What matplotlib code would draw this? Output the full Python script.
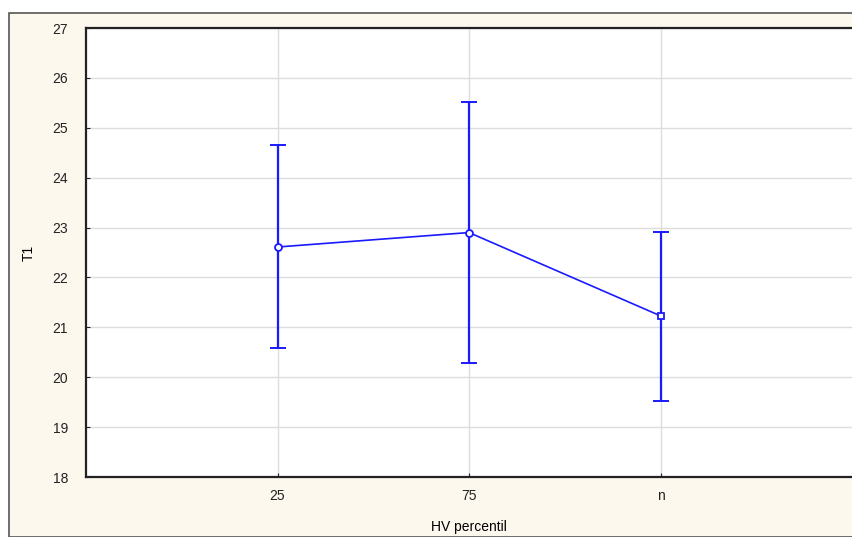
import matplotlib.pyplot as plt
from matplotlib.patches import Rectangle

categories = ['25', '75', 'n']
means = [22.61, 22.90, 21.23]
upper = [24.65, 25.52, 22.91]
lower = [20.58, 20.28, 19.52]
markers = ['o', 'o', 's']

plt.rcParams['font.family'] = ['Liberation Sans', 'DejaVu Sans']

W, H = 852, 537
fig = plt.figure(figsize=(W / 100, H / 100), dpi=100)
fig.patch.set_facecolor('white')

# cream panel with dark border, behind the axes
fig.patches.append(Rectangle((9 / W, 0), 1 - 9 / W + 0.01, 1 - 13 / H,
                             transform=fig.transFigure, facecolor='#fdf8ee',
                             edgecolor='#555555', linewidth=1.2, zorder=-5))

ax = fig.add_axes([86 / W, 1 - 477 / H, (852 - 86) / W, (477 - 28) / H])
ax.set_facecolor('white')

x = list(range(1, len(categories) + 1))
yerr = [[m - l for m, l in zip(means, lower)], [u - m for u, m in zip(upper, means)]]
ax.errorbar(x, means, yerr=yerr, color='#1a1aff', linewidth=1.2,
            elinewidth=1.6, capsize=6, capthick=1.4, zorder=3)
for xi, m, mk in zip(x, means, markers):
    ax.plot(xi, m, marker=mk, markersize=5, markerfacecolor='white',
            markeredgecolor='#1a1aff', markeredgewidth=1.3, zorder=4)

ax.set_xlim(0, 4)
ax.set_ylim(18, 27)
ax.set_xticks(x)
ax.set_xticklabels(categories)
ax.set_yticks(range(18, 28))
ax.grid(True, color='#dcdcdc', linewidth=1)
ax.set_axisbelow(True)
ax.tick_params(direction='in', length=3, labelsize=10, colors='#222222', pad=9)
ax.tick_params(axis='y', pad=13)
for s in ax.spines.values():
    s.set_linewidth(1.6)
    s.set_color('#222222')
ax.spines['right'].set_visible(False)

ax.set_xlabel('HV percentil', fontsize=10, labelpad=12)
ax.set_ylabel('T1', fontsize=10, labelpad=12)

plt.savefig('out.png', dpi=100, facecolor=fig.get_facecolor())
